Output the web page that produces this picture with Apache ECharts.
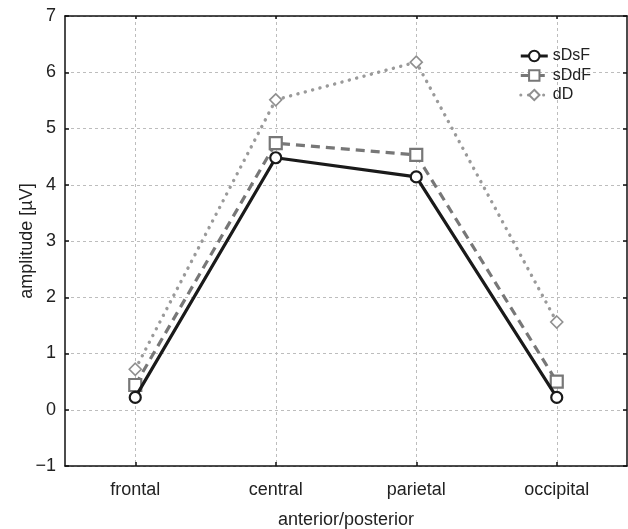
<!DOCTYPE html>
<html>
<head>
<meta charset="utf-8">
<script src="https://cdn.jsdelivr.net/npm/echarts@6/dist/echarts.min.js"></script>
<style>
  html, body { margin: 0; padding: 0; background: #fff; }
  #chart { width: 628px; height: 529px; }
</style>
</head>
<body>
<div id="chart"></div>
<script>
// Electrode regions along the anterior/posterior axis
const regions = ['frontal', 'central', 'parietal', 'occipital'];

// Mean amplitudes (µV) per condition
const sDsF = [0.22, 4.48, 4.14, 0.22];
const sDdF = [0.44, 4.74, 4.53, 0.50];
const dD   = [0.72, 5.51, 6.18, 1.56];

// Value axis range and step
const yMin = -1;
const yMax = 7;
const yStep = 1;

const FONT = '"Liberation Sans", Arial, Helvetica, sans-serif';
const TEXT = '#222';
const FRAME = { color: '#111', width: 1.5 };
const gridDash = { color: '#bdbdbd', width: 1, type: [3, 3] };

const chart = echarts.init(document.getElementById('chart'), null, { renderer: 'canvas' });

chart.setOption({
  animation: false,
  backgroundColor: '#fff',
  textStyle: { fontFamily: FONT, color: TEXT },
  grid: { left: 65, right: 1, top: 16, bottom: 63, containLabel: false, outerBoundsMode: 'none' },
  legend: {
    right: 32,
    top: 43,
    orient: 'vertical',
    itemGap: 3.5,
    itemWidth: 27,
    itemHeight: 13,
    lineStyle: { width: 3 },
    itemStyle: { borderWidth: 2 },
    textStyle: { fontFamily: FONT, fontSize: 16, color: TEXT },
    data: ['sDsF', 'sDdF', 'dD']
  },
  xAxis: [{
    type: 'category',
    data: regions,
    boundaryGap: true,
    name: 'anterior/posterior',
    nameLocation: 'middle',
    nameGap: 45,
    nameMoveOverlap: false,
    nameTextStyle: { fontFamily: FONT, fontSize: 18, color: TEXT },
    axisLine: { show: true, onZero: false, lineStyle: FRAME },
    axisTick: { show: true, inside: true, length: 4, alignWithLabel: true, lineStyle: FRAME },
    axisLabel: { margin: 15, fontFamily: FONT, fontSize: 18, color: TEXT },
    splitLine: { show: true, alignWithLabel: true, lineStyle: gridDash }
  }, {
    type: 'category',
    data: regions,
    position: 'top',
    boundaryGap: true,
    axisLine: { show: true, onZero: false, lineStyle: FRAME },
    axisTick: { show: true, inside: true, length: 3, alignWithLabel: true, lineStyle: FRAME },
    axisLabel: { show: false },
    splitLine: { show: false }
  }],
  yAxis: [{
    type: 'value',
    min: yMin,
    max: yMax,
    interval: yStep,
    name: 'amplitude [µV]',
    nameLocation: 'middle',
    nameGap: 29,
    nameRotate: 90,
    nameMoveOverlap: false,
    nameTextStyle: { fontFamily: FONT, fontSize: 18, color: TEXT },
    axisLine: { show: true, onZero: false, lineStyle: FRAME },
    axisTick: { show: true, inside: true, length: 4, lineStyle: FRAME },
    axisLabel: {
      margin: 9, fontFamily: FONT, fontSize: 18, color: TEXT,
      formatter: v => (v < 0 ? '\u2212' + Math.abs(v) : String(v))
    },
    splitLine: { show: true, lineStyle: gridDash }
  }, {
    type: 'value',
    min: yMin,
    max: yMax,
    interval: yStep,
    position: 'right',
    axisLine: { show: true, onZero: false, lineStyle: FRAME },
    axisTick: { show: true, inside: true, length: 4, lineStyle: FRAME },
    axisLabel: { show: false },
    splitLine: { show: false }
  }],
  series: [
    {
      name: 'dD',
      type: 'line',
      data: dD,
      z: 2,
      symbol: 'diamond',
      symbolSize: 12,
      lineStyle: { color: '#9a9a9a', width: 3.4, type: [0.1, 7.5], cap: 'round' },
      itemStyle: { color: '#fff', borderColor: '#8f8f8f', borderWidth: 1.6 }
    },
    {
      name: 'sDdF',
      type: 'line',
      data: sDdF,
      z: 3,
      symbol: 'rect',
      symbolSize: 12,
      lineStyle: { color: '#777', width: 3.2, type: [9, 6] },
      itemStyle: { color: '#fff', borderColor: '#777', borderWidth: 2.2 }
    },
    {
      name: 'sDsF',
      type: 'line',
      data: sDsF,
      z: 4,
      symbol: 'circle',
      symbolSize: 11,
      lineStyle: { color: '#1a1a1a', width: 3.2, type: 'solid' },
      itemStyle: { color: '#fff', borderColor: '#1a1a1a', borderWidth: 2.2 }
    }
  ]
});
</script>
</body>
</html>
